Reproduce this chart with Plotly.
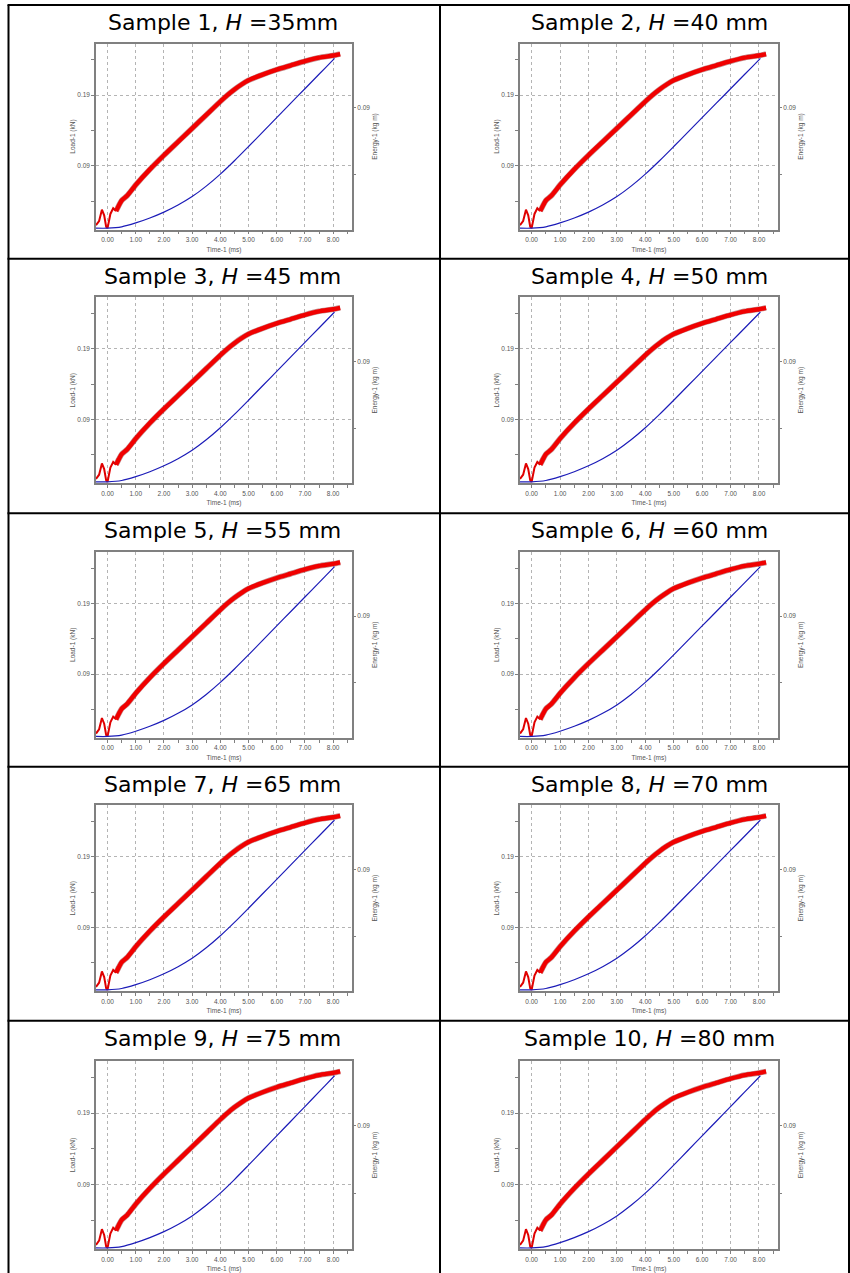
import numpy as np
import plotly.graph_objects as go

W, H = 850, 1273

# ---- data (the ten panels look the same) ----
sample_no = [1, 2, 3, 4, 5, 6, 7, 8, 9, 10]
height_mm = [35, 40, 45, 50, 55, 60, 65, 70, 75, 80]
unit_sep = ["", " ", " ", " ", " ", " ", " ", " ", " ", " "]

time_ms = [-0.41, -0.3, -0.2, -0.12, -0.05, 0.0, 0.1, 0.2, 0.3, 0.4, 0.5, 0.7,
           1.0, 1.5, 2.0, 2.5, 3.0, 3.5, 4.0, 4.25, 4.5, 4.75, 5.0, 5.5, 6.0,
           6.5, 7.0, 7.5, 8.0, 8.25]
load_kN = [0.006, 0.012, 0.028, 0.020, 0.004, 0.002, 0.022, 0.030, 0.026,
           0.034, 0.041, 0.048, 0.063, 0.085, 0.105, 0.124, 0.143, 0.162,
           0.181, 0.190, 0.198, 0.205, 0.211, 0.219, 0.226, 0.232, 0.238,
           0.243, 0.246, 0.248]

energy_time_ms = [-0.41, 0.0, 0.5, 1.0, 1.5, 2.0, 2.5, 3.0, 3.5, 4.0, 4.5,
                  5.0, 5.5, 6.0, 6.5, 7.0, 7.5, 8.0, 8.05]
energy_kgm = [0.0, 0.0, 0.0010, 0.0039, 0.0076, 0.0120, 0.0173, 0.0236,
              0.0314, 0.0404, 0.0504, 0.0610, 0.0718, 0.0826, 0.0934,
              0.1042, 0.1150, 0.1258, 0.1269]

x_tickvals = [0, 1, 2, 3, 4, 5, 6, 7, 8]
x_ticktext = ["0.00", "1.00", "2.00", "3.00", "4.00", "5.00", "6.00", "7.00", "8.00"]
load_tickvals = [0.09, 0.19]
load_ticktext = ["0.09", "0.19"]
energy_tickvals = [0.09]
energy_ticktext = ["0.09"]

# ---- geometry (pixels) ----
row_lines = [5, 258.7, 513.3, 766.7, 1020.7]
frame_top_off = [38.5, 38.5, 38.5, 38.5, 40.0]
frame_bot_off = [224.5, 224.5, 224.5, 224.5, 228.6]
col_lines = [8.5, 440, 849]
frame_x = [(96, 352), (520, 778)]
title_x = [223, 649]

def px_x(v):
    return v / W

def px_y(v):
    return 1 - v / H

t = np.array(time_ms)
ld = np.array(load_kN)
early = t <= 0.3
late = t >= 0.3

fig = go.Figure()
layout = {}
annotations = []

tick_font = dict(family="Liberation Sans, Arial, sans-serif", size=6.5, color="#555555")
frame_col = "#808080"

for i in range(10):
    r, c = divmod(i, 2)
    xn = "" if i == 0 else str(i + 1)
    yl = "" if i == 0 else str(2 * i + 1)
    yr = str(2 * i + 2)
    top = row_lines[r] + frame_top_off[r]
    bot = row_lines[r] + frame_bot_off[r]
    x0, x1 = frame_x[c]

    fig.add_trace(go.Scatter(x=t[early], y=ld[early], mode="lines",
                             line=dict(color="#e00000", width=2),
                             xaxis="x" + xn, yaxis="y" + yl, showlegend=False))
    fig.add_trace(go.Scatter(x=t[late], y=ld[late], mode="lines",
                             line=dict(color="#8a2020", width=5.6, shape="spline", smoothing=0.6),
                             opacity=0.5,
                             xaxis="x" + xn, yaxis="y" + yl, showlegend=False))
    fig.add_trace(go.Scatter(x=t[late], y=ld[late], mode="lines",
                             line=dict(color="#f00000", width=4.4, shape="spline", smoothing=0.6),
                             xaxis="x" + xn, yaxis="y" + yl, showlegend=False))
    fig.add_trace(go.Scatter(x=energy_time_ms, y=energy_kgm, mode="lines",
                             line=dict(color="#1c1cb8", width=1.2, shape="spline", smoothing=0.8),
                             xaxis="x" + xn, yaxis="y" + yr, showlegend=False))

    layout["xaxis" + xn] = dict(
        domain=[px_x(x0), px_x(x1)], anchor="y" + yl, range=[-0.41, 8.67],
        tickmode="array", tickvals=x_tickvals, ticktext=x_ticktext,
        showgrid=True, gridcolor="#b4b4b4", griddash="dot", gridwidth=1,
        showline=True, linecolor=frame_col, linewidth=1.5, mirror=True,
        ticks="outside", ticklen=3, tickcolor=frame_col, tickwidth=1,
        minor=dict(tick0=0, dtick=0.5, ticks="outside", ticklen=3,
                   tickcolor=frame_col, showgrid=False),
        tickfont=tick_font, zeroline=False, fixedrange=True,
        title=dict(text="Time-1 (ms)", font=tick_font, standoff=5),
    )
    layout["yaxis" + yl] = dict(
        domain=[px_y(bot), px_y(top)], anchor="x" + xn, range=[0.0, 0.263],
        tickmode="array", tickvals=load_tickvals, ticktext=load_ticktext,
        showgrid=True, gridcolor="#b4b4b4", griddash="dot", gridwidth=1,
        showline=True, linecolor=frame_col, linewidth=1.5, mirror=True,
        ticks="outside", ticklen=3, tickcolor=frame_col, tickwidth=1,
        minor=dict(tick0=0.04, dtick=0.05, ticks="outside", ticklen=3,
                   tickcolor=frame_col, showgrid=False),
        tickfont=tick_font, zeroline=False, fixedrange=True,
        title=dict(text="Load-1 (kN)", font=tick_font, standoff=1),
    )
    layout["yaxis" + yr] = dict(
        domain=[px_y(bot), px_y(top)], anchor="x" + xn, overlaying="y" + yl,
        side="right", range=[-0.001, 0.138],
        tickmode="array", tickvals=energy_tickvals, ticktext=energy_ticktext,
        showgrid=False, showline=False, zeroline=False,
        ticks="outside", ticklen=3, tickcolor=frame_col, tickwidth=1,
        minor=dict(tick0=0.04, dtick=0.05, ticks="outside", ticklen=3,
                   tickcolor=frame_col, showgrid=False),
        tickfont=tick_font, fixedrange=True,
        title=dict(text="Energy-1 (kg m)", font=tick_font, standoff=3),
    )

    annotations.append(dict(
        text=f"Sample {sample_no[i]}, <i>H</i> ={height_mm[i]}{unit_sep[i]}mm",
        x=px_x(title_x[c]), y=px_y(row_lines[r] + 17.5), xref="paper", yref="paper",
        xanchor="center", yanchor="middle", showarrow=False,
        font=dict(family="DejaVu Sans, Verdana, sans-serif", size=22, color="#000000"),
    ))

shapes = []
for yv in row_lines:
    shapes.append(dict(type="line", xref="paper", yref="paper",
                       x0=px_x(col_lines[0]) - 1 / W, x1=px_x(col_lines[-1]) + 1 / W,
                       y0=px_y(yv), y1=px_y(yv), line=dict(color="black", width=2)))
for xv in col_lines:
    shapes.append(dict(type="line", xref="paper", yref="paper",
                       x0=px_x(xv), x1=px_x(xv), y0=px_y(row_lines[0]), y1=0,
                       line=dict(color="black", width=2)))

fig.update_layout(
    width=W, height=H, margin=dict(l=0, r=0, t=0, b=0),
    paper_bgcolor="white", plot_bgcolor="white", showlegend=False,
    hovermode=False,
    annotations=annotations, shapes=shapes, **layout,
)

fig.write_html("out.html", config={"displayModeBar": False},
               post_script="document.body.style.margin='0';document.body.style.padding='0';")
